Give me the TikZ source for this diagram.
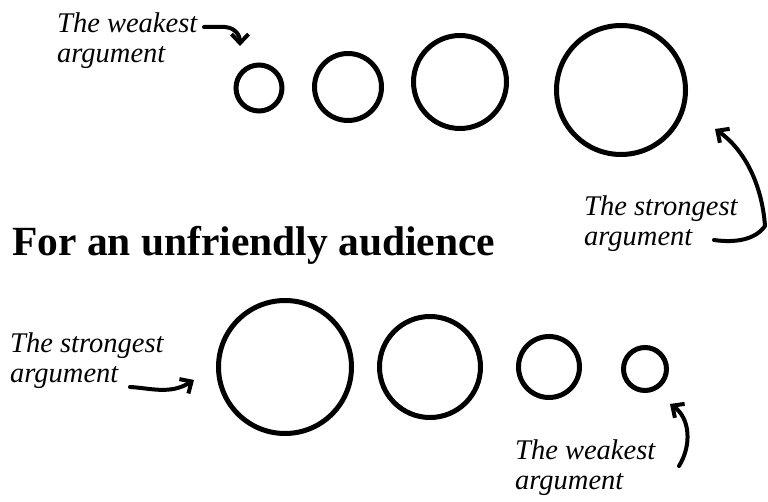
\documentclass[tikz,border=0pt]{standalone}
\usepackage{fontspec}
\setmainfont{Liberation Serif}
\usetikzlibrary{arrows.meta}
\begin{document}
\begin{tikzpicture}[x=1pt,y=-1pt,
  arg/.style={circle,draw,line width=5pt,inner sep=0pt},
  lbl/.style={font=\itshape\fontsize{28.5}{30}\selectfont,align=left,inner sep=0pt,anchor=north west},
  hand/.style={line width=4pt,line cap=round,line join=round,-{Straight Barb[length=9pt,width=17pt,line width=4pt]}}]
\useasboundingbox (0,0) rectangle (768,502);
% top row
\node[arg,minimum size=46pt] (a1) at (259,88) {};
\node[arg,minimum size=67pt] (a2) at (348,87) {};
\node[arg,minimum size=93pt] (a3) at (460,82) {};
\node[arg,minimum size=129pt] (a4) at (621,90) {};
% bottom row
\node[arg,minimum size=133pt] (b1) at (285,367) {};
\node[arg,minimum size=101pt] (b2) at (430,367) {};
\node[arg,minimum size=61pt] (b3) at (549,367) {};
\node[arg,minimum size=43pt] (b4) at (645,369) {};
% title
\node[font=\bfseries\fontsize{41.5}{48}\selectfont,anchor=west,inner sep=0pt] (title) at (12,245) {For an unfriendly audience};
% labels
\node[lbl] (tw) at (57,13) {The weakest\\argument};
\node[lbl] (ts) at (584,196) {The strongest\\argument};
\node[lbl] (bs) at (10,333) {The strongest\\argument};
\node[lbl] (bw) at (515,440) {The weakest\\argument};
% arrow points
\coordinate (tw1) at (204,27);
\coordinate (tw2) at (240,46);
\coordinate (ts1) at (714,240);
\coordinate (ts2) at (715,129);
\coordinate (bs1) at (130,387);
\coordinate (bs2) at (194,380);
\coordinate (bw1) at (679,466);
\coordinate (bw2) at (670,404);
\draw[hand] (tw1) -- (225,27) .. controls (236,28) and (240,36) .. (tw2);
\draw[hand] (ts1) .. controls (735,243) and (755,240) .. (765,226) .. controls (762,185) and (745,150) .. (ts2);
\draw[hand] (bs1) .. controls (150,388) and (170,395) .. (bs2);
\draw[hand] (bw1) .. controls (692,445) and (690,418) .. (bw2);
\end{tikzpicture}
\end{document}
